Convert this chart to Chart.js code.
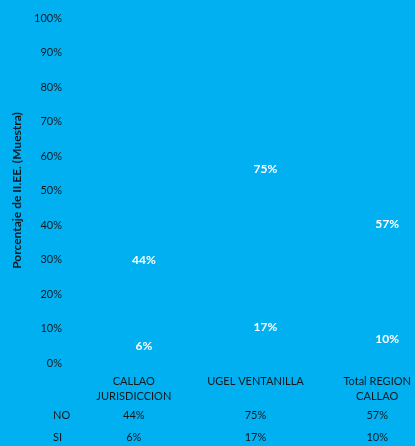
<!DOCTYPE html>
<html>
<head>
<meta charset="utf-8">
<script src="https://cdn.jsdelivr.net/npm/chart.js@4/dist/chart.umd.min.js"></script>
<style>
html,body{margin:0;padding:0;overflow:hidden;background:#00B0F0;}
#wrap{width:448px;height:446px;}
</style>
</head>
<body>
<div id="wrap"><canvas id="c" width="448" height="446"></canvas></div>
<script>
const categories = [["CALLAO","JURISDICCION"], ["UGEL VENTANILLA"], ["Total REGION","CALLAO"]];
const siValues = [6, 17, 10];
const noValues = [44, 75, 57];
const rowLabels = ["NO", "SI"];
const yTicks = [0,10,20,30,40,50,60,70,80,90,100];

const FONT = "Lato, 'Open Sans', sans-serif";
const TXT = "#111820";

const labelPlugin = {
  id: 'labels',
  afterDatasetsDraw(chart) {
    const ctx = chart.ctx;
    ctx.save();
    ctx.fillStyle = '#ffffff';
    ctx.font = "bold 12px " + FONT;
    ctx.textAlign = 'center';
    ctx.textBaseline = 'middle';
    chart.data.datasets.forEach((ds, di) => {
      const meta = chart.getDatasetMeta(di);
      meta.data.forEach((bar, i) => {
        const p = bar.getProps(['x','y','base'], true);
        ctx.fillText(ds.data[i] + '%', p.x, (p.y + p.base) / 2 - 6);
      });
    });
    ctx.restore();
  }
};

const tablePlugin = {
  id: 'table',
  afterDraw(chart) {
    const ctx = chart.ctx;
    const xs = chart.scales.x;
    const bottom = chart.chartArea.bottom;
    ctx.save();
    ctx.fillStyle = TXT;
    ctx.font = "11px " + FONT;
    ctx.textBaseline = 'middle';
    ctx.textAlign = 'center';
    categories.forEach((lines, i) => {
      const x = xs.getPixelForValue(i) - 10;
      lines.forEach((t, li) => ctx.fillText(t, x, bottom + 18 + li * 15));
      ctx.fillText(noValues[i] + '%', x, bottom + 52);
      ctx.fillText(siValues[i] + '%', x, bottom + 74);
    });
    ctx.textAlign = 'left';
    ctx.fillText(rowLabels[0], 53, bottom + 52);
    ctx.fillText(rowLabels[1], 53, bottom + 74);
    ctx.restore();
  }
};

new Chart(document.getElementById('c'), {
  type: 'bar',
  data: {
    labels: categories.map(c => c.join(' ')),
    datasets: [
      { label: 'SI', data: siValues, backgroundColor: 'rgba(0,0,0,0)', borderWidth: 0 },
      { label: 'NO', data: noValues, backgroundColor: 'rgba(0,0,0,0)', borderWidth: 0 }
    ]
  },
  options: {
    responsive: false,
    animation: false,
    layout: { padding: { left: 10, right: 0, top: 18, bottom: 83 } },
    plugins: { legend: { display: false }, tooltip: { enabled: false } },
    scales: {
      x: {
        stacked: true,
        display: false
      },
      y: {
        stacked: true,
        min: 0, max: 100,
        afterBuildTicks(scale) { scale.ticks = yTicks.map(v => ({ value: v })); },
        afterFit(scale) { scale.width = 73; },
        grid: { display: true, drawOnChartArea: false, drawTicks: true, tickLength: 21, color: 'rgba(0,0,0,0)' },
        border: { display: false },
        ticks: {
          padding: 0,
          color: TXT,
          font: { family: FONT, size: 11 },
          callback: v => v + '%'
        },
        title: {
          display: true,
          text: 'Porcentaje de II.EE. (Muestra)',
          color: TXT,
          font: { family: FONT, size: 12, weight: 'bold' },
          padding: { top: 0, bottom: 0 }
        }
      }
    }
  },
  plugins: [labelPlugin, tablePlugin]
});
</script>
</body>
</html>
